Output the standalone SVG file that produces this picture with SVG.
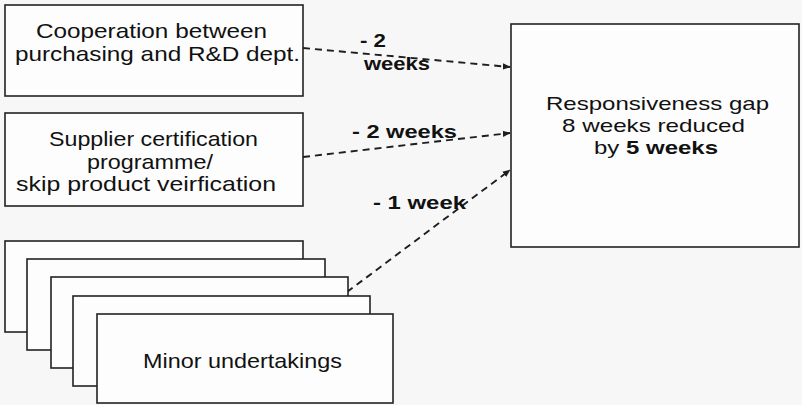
<svg xmlns="http://www.w3.org/2000/svg" width="802" height="405" viewBox="0 0 802 405">
<style>
.box{fill:#fdfdfd;stroke:#222;stroke-width:1.6}
.t{font-family:"Liberation Sans",Arial,sans-serif;font-size:21px;fill:#111}
.r{font-family:"Liberation Sans",Arial,sans-serif;font-size:19px;fill:#111}
.lbl{font-family:"Liberation Sans",Arial,sans-serif;font-size:18px;font-weight:bold;fill:#111}
.dash{fill:none;stroke:#1e1e1e;stroke-width:1.9;stroke-dasharray:7,5;marker-end:url(#ah)}
</style>
<defs>
<marker id="ah" viewBox="0 0 10 10" refX="9" refY="5" markerWidth="8" markerHeight="8" markerUnits="userSpaceOnUse" orient="auto">
<path d="M0,1 L10,5 L0,9 z" fill="#1e1e1e"/>
</marker>
</defs>
<rect width="802" height="405" fill="#f7f7f7"/>
<g id="n1">
<rect class="box" x="5" y="5" width="298" height="91"/>
<text class="t" x="36" y="37.5" textLength="231" lengthAdjust="spacingAndGlyphs">Cooperation between</text>
<text class="t" x="15" y="61" textLength="285" lengthAdjust="spacingAndGlyphs">purchasing and R&amp;D dept.</text>
</g>
<g id="n2">
<rect class="box" x="5" y="113" width="298" height="93"/>
<text class="t" x="49" y="146" textLength="209" lengthAdjust="spacingAndGlyphs">Supplier certification</text>
<text class="t" x="87" y="169" textLength="126" lengthAdjust="spacingAndGlyphs">programme/</text>
<text class="t" x="16" y="191" textLength="260" lengthAdjust="spacingAndGlyphs">skip product veirfication</text>
</g>
<g id="n3">
<rect class="box" x="511" y="24" width="288" height="223"/>
<text class="r" x="546" y="110" textLength="223" lengthAdjust="spacingAndGlyphs">Responsiveness gap</text>
<text class="r" x="562" y="132" textLength="183" lengthAdjust="spacingAndGlyphs">8 weeks reduced</text>
<text class="r" x="594" y="154" textLength="124" lengthAdjust="spacingAndGlyphs">by <tspan font-weight="bold">5 weeks</tspan></text>
</g>
<g id="connectors">
<path class="dash" d="M303,48 L510,67"/>
<path class="dash" d="M303,157 L510,133"/>
<path class="dash" d="M347,292 L510,170"/>
</g>
<g id="labels">
<text class="lbl" x="360" y="47" textLength="26" lengthAdjust="spacingAndGlyphs">- 2</text>
<text class="lbl" x="364" y="70" textLength="66" lengthAdjust="spacingAndGlyphs">weeks</text>
<text class="lbl" x="352" y="138" textLength="105" lengthAdjust="spacingAndGlyphs">- 2 weeks</text>
<text class="lbl" x="373" y="209" textLength="93" lengthAdjust="spacingAndGlyphs">- 1 week</text>
</g>
<g id="n4">
<rect class="box" x="5" y="241" width="298" height="91"/>
<rect class="box" x="27" y="259" width="298" height="91"/>
<rect class="box" x="51" y="277" width="297" height="91"/>
<rect class="box" x="73" y="296" width="297" height="90"/>
<rect class="box" x="97" y="314" width="296" height="89"/>
<text class="t" x="143" y="367.5" textLength="199" lengthAdjust="spacingAndGlyphs">Minor undertakings</text>
</g>
</svg>
